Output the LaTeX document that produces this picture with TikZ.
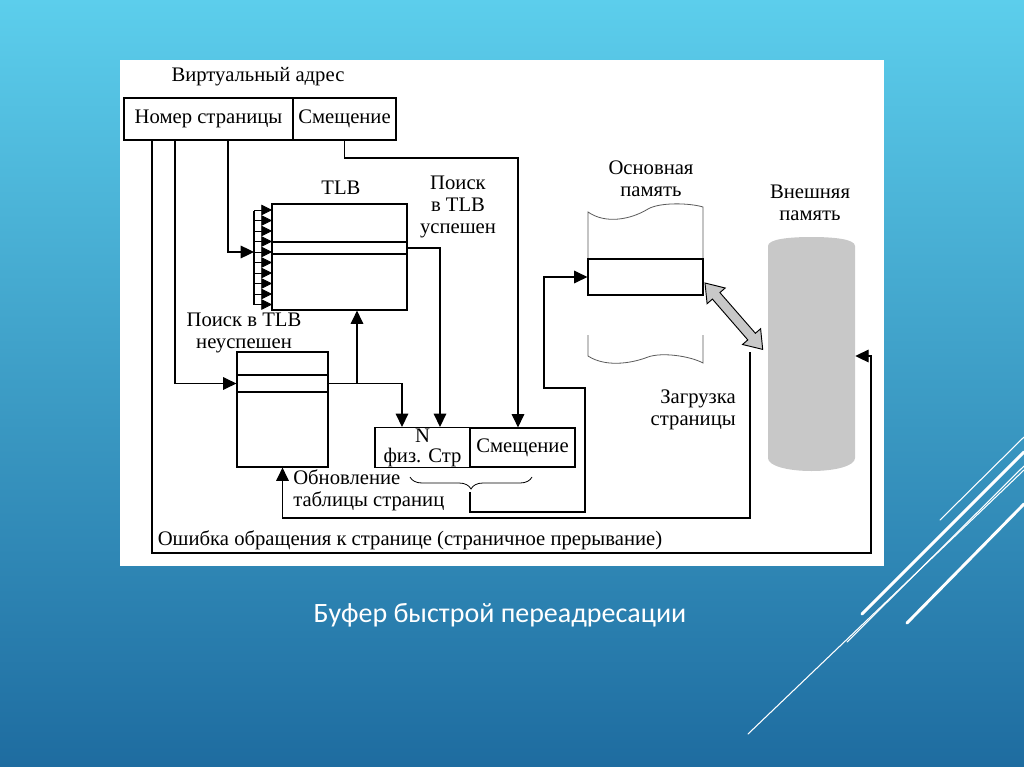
\documentclass[tikz,border=0pt]{standalone}
\usepackage{fontspec}
\setmainfont{Liberation Serif}
\newfontfamily\capfont{Carlito}
\usetikzlibrary{arrows.meta,decorations.pathreplacing}
\definecolor{slidetop}{RGB}{92,206,236}
\definecolor{slidebot}{RGB}{30,108,160}
\definecolor{diskgray}{RGB}{200,200,200}
\definecolor{wavegray}{RGB}{90,90,90}
\begin{document}
\begin{tikzpicture}[x=0.75pt,y=0.75pt,yscale=-1,xscale=1,
    box/.style 2 args={draw, line width=0.9pt, inner sep=0pt, minimum width=#1*0.75pt, minimum height=#2*0.75pt},
    wire/.style={line width=0.9pt},
    arr/.style={wire, -{Triangle[length=10pt,width=9.5pt]}},
    combarr/.style={line width=0.6pt, -{Triangle[length=8pt,width=8pt]}},
    lbl/.style={font=\fontsize{15.5}{16.5}\selectfont, inner sep=0.75pt, align=center},
    slash/.style={white, line cap=round}]
        %Shape: Background
        \shade [top color=slidetop, bottom color=slidebot] (0,0) rectangle (1024,767) ;
        \useasboundingbox (0,0) rectangle (1024,767) ;
        %Straight Lines
        \draw [slash, line width=0.8pt] (940,520) -- (1024,437) ;
        \draw [slash, line width=2.2pt] (862,614) -- (1024,452) ;
        \draw [slash, line width=0.8pt] (847,642) -- (1024,466) ;
        \draw [slash, line width=0.8pt] (748,734) -- (1024,470) ;
        \draw [slash, line width=2.2pt] (907,623) -- (1024,504) ;
        %Shape: Rectangle
        \fill [white] (120,60) rectangle (884,566) ;

        % Text Node
        \node [lbl] (vatitle) at (258,77) {Виртуальный адрес};
        \node [box={169}{42}, lbl] (vpn) at (208.5,119) {Номер страницы};
        \node [box={103}{42}, lbl] (voff) at (344.5,119) {Смещение};
        % TLB
        \node [lbl] (tlbtitle) at (341,188) {TLB};
        \node [box={135}{106}] (tlb) at (339.5,257) {};
        \node [box={135}{12}, line width=1.2pt] (tlbrow) at (339.5,248) {};
        \node [lbl] (hit) at (458,207) {Поиск\\в TLB\\успешен};
        \node [lbl] (miss) at (244,333) {Поиск в TLB\\неуспешен};
        % page table
        \node [box={91}{115}] (pt) at (282.5,409.5) {};
        \node [box={91}{17}] (ptrow) at (282.5,383.5) {};
        % physical address
        \node [box={95}{39}, lbl, font=\fontsize{15.5}{15}\selectfont] (pfn) at (422.5,447.5) {N\\физ. Стр};
        \node [box={105}{39}, lbl] (poff) at (522.5,447.5) {Смещение};
        % Text Node
        \node [lbl, anchor=west, align=left] (upd) at (292,490) {Обновление\\таблицы страниц};
        \node [lbl] (fault) at (410,540) {Ошибка обращения к странице (страничное прерывание)};
        \node [lbl] (mmtitle) at (651,179) {Основная\\память};
        \node [lbl] (extitle) at (810,203) {Внешняя\\память};
        \node [lbl, anchor=east, align=right] (load) at (737,410) {Загрузка\\страницы};

        %Shape: main memory
        \draw [wavegray, line width=0.6pt] (588,259) -- (588,212) .. controls (605,224) and (630,220) .. (648,209) .. controls (660,202) and (690,203) .. (703,207) -- (703,259) ;
        \draw [wavegray, line width=0.6pt] (588,335) -- (588,356) .. controls (605,367) and (630,364) .. (648,357) .. controls (662,352) and (690,356) .. (703,363) -- (703,335) ;
        \node [box={115}{36}, fill=white] (mpage) at (645.5,277) {};
        %Shape: disk
        \fill [diskgray] (768,458) -- (768,246) .. controls (768,239) and (790,237) .. (811.5,237) .. controls (833,237) and (855,239) .. (855,246) -- (855,458) .. controls (855,466) and (835,471) .. (811.5,471) .. controls (788,471) and (768,466) .. (768,458) -- cycle ;
        \node [inner sep=0pt, minimum width=87*0.75pt, minimum height=232*0.75pt] (disk) at (811.5,356) {};
        %Shape: double arrow
        \draw [line width=0.7pt, fill=diskgray] (705,283) -- (725.2,288) -- (719.9,292.6) -- (755.4,333.3) -- (760.6,328.7) -- (762.7,349.4) -- (742.5,344.5) -- (747.8,339.9) -- (712.4,299.1) -- (707.1,303.7) -- cycle ;

        % bend points
        \coordinate (comb) at (254,252);
        \coordinate (b1) at (152,553);
        \coordinate (b2) at (871,553);
        \coordinate (b3) at (175,383.5);
        \coordinate (b4) at (228,252);
        \coordinate (b5) at (518,158);
        \coordinate (b6) at (440,248);
        \coordinate (b7) at (402,383.5);
        \coordinate (b8) at (357,383.5);
        \coordinate (br) at (470,492);
        \coordinate (b9) at (585,512);
        \coordinate (b10) at (544,388);
        \coordinate (b11) at (750,352);
        \coordinate (b12) at (750,518);

        %Straight Lines
        \draw [wire] (254,211) -- (254,305) ;
        \foreach \y in {210,220.5,...,305} \draw [combarr] (254,\y) -- ++(18,0) ;
        \draw [arr] (vpn.south -| b1) -- (b1) -- (b2) |- (disk.east) ;
        \draw [arr] (vpn.south -| b3) |- (ptrow.west) ;
        \draw [arr] (vpn.south -| b4) |- (comb) ;
        \draw [arr] (voff.south) |- (b5) -- (poff.north -| b5) ;
        \draw [arr] (tlbrow.east) -| (pfn.north -| b6) ;
        \draw [arr] (ptrow.east) -| (pfn.north -| b7) ;
        \draw [arr] (b8) -- (tlb.south -| b8) ;
        \draw [decorate, decoration={brace, amplitude=9pt}, line width=0.6pt] (532,477) -- (410,477) ;
        \draw [arr] (br) |- (b9) |- (b10) |- (mpage.west) ;
        \draw [arr] (b11) -- (b12) -| (pt.south) ;

        % Text Node
        \node [font=\capfont\fontsize{21}{25}\selectfont, text=white] (caption) at (500,615) {Буфер быстрой переадресации};
\end{tikzpicture}
\end{document}
